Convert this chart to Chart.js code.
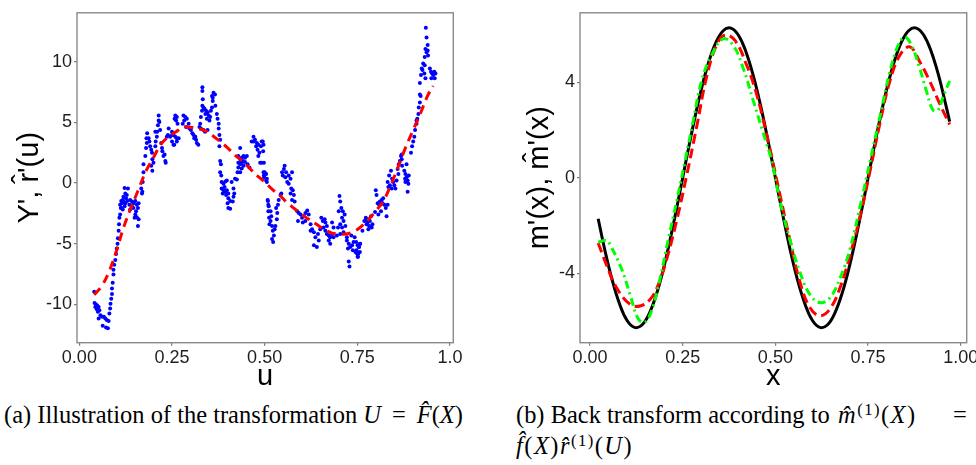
<!DOCTYPE html>
<html>
<head>
<meta charset="utf-8">
<script src="https://cdn.jsdelivr.net/npm/chart.js@4.4.1/dist/chart.umd.min.js"></script>
<style>
  html, body { margin: 0; padding: 0; background: #fff; overflow: hidden; width: 976px; height: 465px; }
  .box { position: absolute; }
  .cap { position: absolute; font-family: "Liberation Serif", "Times New Roman", serif; color: #000; white-space: nowrap; line-height: 1; }
  .cap i { font-style: italic; }
  .cap sup { font-size: 0.68em; vertical-align: 0; position: relative; top: -0.48em; }
  .m { letter-spacing: 0.06em; }
</style>
</head>
<body>
<div class="box" style="left:0;top:0;width:470px;height:395px;"><canvas id="c1" width="470" height="395"></canvas></div>
<div class="box" style="left:490px;top:0;width:510px;height:395px;"><canvas id="c2" width="510" height="395"></canvas></div>

<div id="capA" class="cap" style="left:4px;top:403px;font-size:25px;">(a) Illustration of the transformation <i>U</i>&thinsp; = &thinsp;<i>F&#770;</i>(<i>X</i>)</div>
<div id="capB1" class="cap" style="left:516px;top:403px;font-size:25px;">(b) Back transform according to</div>
<div id="capB2" class="cap m" style="left:838px;top:403px;font-size:25px;"><i>m&#770;</i><sup>(1)</sup>(<i>X</i>)</div>
<div id="capB3" class="cap" style="left:953px;top:403px;font-size:25px;">=</div>
<div id="capB4" class="cap m" style="left:516px;top:434px;font-size:25px;"><i>f&#770;</i>(<i>X</i>)<i>r&#770;</i><sup>(1)</sup>(<i>U</i>)</div>

<script>
// ---------- Panel (a) data ----------
const scatterU = [
 0.040,0.041,0.045,0.048,0.043,0.052,0.047,0.054,0.050,0.052,0.057,0.061,0.066,0.070,0.074,0.079,0.063,0.072,0.077,
 0.081,0.083,0.084,0.086,0.088,0.088,0.090,0.092,0.092,0.094,0.097,0.099,0.101,0.103,0.104,0.106,0.107,0.108,0.110,0.112,0.115,0.117,0.119,
 0.122,0.131,0.124,0.128,0.113,0.119,0.124,0.113,0.117,0.122,0.126,0.110,0.129,
 0.137,0.142,0.146,0.151,0.155,0.160,0.146,0.158,0.151,0.149,0.155,0.160,0.158,0.137,0.142,0.135,0.153,
 0.167,0.170,0.169,0.171,0.173,0.173,0.178,0.180,0.182,0.181,0.183,0.187,0.189,0.191,0.194,0.196,0.197,0.200,0.194,0.197,
 0.205,0.206,0.209,0.205,0.210,0.212,0.214,0.214,0.216,0.218,0.221,0.223,0.224,0.227,0.230,0.232,0.233,0.236,0.239,0.241,0.245,0.250,0.254,0.257,
 0.250,0.254,0.259,0.263,0.250,0.256,0.263,0.268,0.259,0.263,0.261,0.265,0.281,0.286,0.290,0.283,0.279,0.295,0.288,0.297,
 0.301,0.305,0.308,0.313,0.315,0.317,0.321,0.310,0.324,0.326,0.328,0.331,0.332,0.333,0.332,0.332,0.335,0.338,0.340,0.342,
 0.346,0.349,0.344,0.351,0.353,0.355,0.358,0.360,0.358,0.362,0.366,0.360,0.367,0.371,0.373,0.376,0.376,0.378,0.380,0.378,
 0.328,0.335,0.339,0.346,0.380,0.382,0.380,0.383,
 0.384,0.389,0.394,0.398,0.384,0.389,0.394,0.387,0.398,0.402,0.411,0.416,0.418,0.416,0.402,0.407,0.414,0.402,0.407,0.420,0.425,0.392,0.396,0.400,
 0.434,0.429,0.434,0.438,0.443,0.447,0.452,0.429,0.434,0.438,0.443,0.429,0.438,0.434,0.427,0.454,0.459,0.441,0.447,0.436,
 0.470,0.465,0.474,0.479,0.483,0.481,0.486,0.490,0.492,0.497,0.483,0.488,0.492,0.470,0.477,
 0.497,0.501,0.499,0.504,0.506,0.506,0.508,0.510,0.510,0.512,0.513,
 0.495,0.496,0.498,0.500,0.504,0.498,
 0.509,0.511,0.516,0.518,0.516,0.520,0.522,0.525,0.520,0.523,0.527,0.529,0.533,0.534,0.531,0.536,0.538,0.543,0.545,
 0.547,0.552,0.554,0.549,0.556,0.561,0.565,0.570,0.574,0.572,0.576,0.579,0.570,0.574,0.581,0.558,0.565,
 0.588,0.592,0.597,0.601,0.590,0.606,0.610,0.615,0.619,0.603,0.610,
 0.624,0.628,0.633,0.637,0.633,0.641,0.646,0.644,0.624,
 0.653,0.657,0.662,0.650,0.659,0.664,0.668,0.673,0.677,0.682,0.677,0.673,0.686,0.682,0.686,0.668,0.664,
 0.702,0.704,0.707,0.711,0.700,0.709,0.713,0.704,0.698,0.709,0.713,0.704,0.695,0.718,0.716,
 0.722,0.727,0.725,0.731,0.736,0.738,0.740,0.745,0.749,0.752,0.754,0.758,0.727,0.729,0.722,0.734,0.743,
 0.747,0.751,0.755,0.748,0.753,0.757,0.751,0.757,
 0.764,0.769,0.773,0.775,0.778,0.782,0.784,0.787,0.791,0.789,0.780,0.775,
 0.798,0.800,0.802,0.805,0.809,0.811,0.816,0.820,0.823,0.827,0.829,0.814,0.807,0.832,0.818,
 0.832,0.834,0.838,0.843,0.844,0.847,0.850,0.853,0.856,0.841,0.836,
 0.859,0.862,0.865,0.868,0.870,0.871,0.861,0.870,
 0.877,0.880,0.883,0.879,0.886,0.888,0.880,0.886,0.889,0.883,
 0.895,0.898,0.901,0.904,0.906,0.910,0.912,0.915,0.916,0.919,0.921,0.919,0.910,
 0.919,0.922,0.924,0.928,0.932,0.926,0.931,0.934,
 0.935,0.937,0.940,0.934,0.937,0.932,0.941,0.940,
 0.946,0.949,0.952,0.955,0.959,0.950,0.958,0.961
];
const scatterY = [
 -8.95,-9.89,-10.0,-10.08,-10.21,-10.21,-10.4,-10.48,-10.61,-11.15,-10.88,-11.01,-11.01,-11.15,-11.28,-11.36,-11.76,-11.9,-11.95,
 -10.74,-10.34,-9.94,-9.54,-9.14,-8.69,-8.21,-7.54,-7.14,-6.74,-6.33,-5.85,-5.4,-5.0,-4.54,-3.93,-3.39,-2.86,-2.59,-2.06,-1.66,-1.39,-1.12,
 -0.40,-0.45,-0.86,-0.99,-1.47,-1.52,-1.66,-2.06,-2.19,-1.92,-1.26,-1.79,-1.47,
 -1.39,-1.52,-1.66,-1.47,-1.79,-1.66,-2.06,-2.06,-2.59,-2.86,-2.81,-2.99,-3.53,-2.19,-1.92,-1.79,-2.32,
 -0.45,-0.72,-0.86,0.08,0.88,1.55,2.22,2.89,3.29,3.69,4.09,3.69,3.42,3.02,2.75,2.49,1.95,1.68,1.42,1.02,
 3.02,3.42,3.82,4.22,4.22,4.76,5.16,5.56,5.03,4.36,3.29,2.89,2.62,2.22,2.35,1.82,1.68,3.82,3.96,4.49,3.82,3.96,3.16,5.29,
 4.22,3.96,3.82,3.69,3.42,3.15,3.42,3.69,5.56,5.43,5.16,4.89,5.56,5.43,5.29,5.16,4.89,4.89,4.62,4.49,
 4.36,4.09,3.96,3.82,3.56,3.29,3.15,3.69,4.62,4.89,5.43,5.96,6.36,6.90,7.57,7.89,6.23,6.09,5.69,5.96,
 5.83,5.56,5.29,5.16,5.43,5.96,6.23,6.76,7.16,7.43,7.30,7.03,6.36,5.69,5.29,4.89,4.49,3.96,3.56,3.02,
 4.49,4.36,4.22,4.36,1.82,1.55,0.88,0.62,
 0.08,-0.05,0.13,0.21,-0.45,-0.59,-0.72,-0.86,-0.59,-0.86,0.08,-0.45,-0.86,-1.12,-1.26,-1.47,-1.52,-2.06,-2.11,0.35,0.29,-0.32,-0.99,-1.66,
 2.89,2.22,1.95,2.09,2.22,2.09,2.22,1.68,1.55,1.68,1.42,1.28,1.20,0.88,0.88,1.55,1.28,1.82,1.74,1.90,
 3.82,3.42,3.56,3.29,3.15,2.75,2.49,3.02,3.42,3.15,2.22,1.68,1.68,3.42,3.02,
 0.88,0.75,0.48,0.21,0.08,0.35,-1.39,-1.79,-2.32,-2.86,-3.39,
 3.42,2.62,1.68,0.88,0.75,0.62,
 -1.47,-1.92,-2.32,-2.73,-3.13,-3.53,-3.93,-4.33,-4.60,-4.86,-3.80,-3.53,-2.99,-2.46,-2.06,-1.79,-1.39,-0.99,-0.86,
 0.88,1.15,1.42,0.62,0.48,0.08,-0.05,0.35,0.88,-0.45,-0.59,-0.99,-0.86,-1.39,-1.52,0.88,0.62,
 -2.32,-2.46,-2.59,-2.86,-3.13,-2.73,-2.46,-2.27,-2.59,-3.26,-3.13,
 -3.39,-3.80,-4.06,-4.46,-5.13,-5.27,-4.73,-4.20,-3.93,
 -2.86,-3.13,-2.99,-3.80,-3.66,-3.93,-4.20,-4.33,-4.46,-4.20,-5.00,-4.73,-4.46,-3.26,-3.66,-3.53,-3.26,
 -1.07,-1.52,-2.06,-2.32,-2.32,-2.86,-3.13,-3.39,-3.66,-3.66,-4.06,-4.20,-4.33,-3.53,-2.59,
 -4.73,-5.00,-5.40,-5.27,-5.13,-5.53,-4.86,-5.67,-5.80,-6.07,-5.27,-5.00,-6.47,-6.87,-4.46,-4.33,-4.46,
 -4.86,-5.13,-5.27,-5.53,-5.80,-5.67,-6.07,-5.00,
 -3.93,-3.13,-2.86,-2.99,-3.26,-3.53,-3.13,-2.73,-3.39,-3.66,-3.80,-3.39,
 -2.38,-0.59,-0.99,-1.66,-1.79,-1.52,-1.39,-1.26,-1.79,-2.06,-2.73,-2.32,-2.59,-1.79,-1.66,
 0.08,-0.32,-0.19,-0.45,0.35,0.08,-0.19,-0.45,0.21,1.02,0.62,
 1.15,1.55,1.82,2.22,1.95,1.42,0.75,2.35,
 1.02,0.75,0.48,0.35,0.21,-0.05,0.08,-0.72,0.62,1.55,
 2.49,3.02,3.42,3.82,4.36,4.89,5.29,5.69,6.23,6.63,7.16,7.30,5.16,
 8.23,8.90,9.44,9.84,9.70,9.30,9.03,8.63,
 12.78,11.98,11.36,11.04,10.77,10.37,10.51,10.91,
 9.44,9.17,9.03,8.90,8.63,8.63,9.17,9.03
];
const fitU = [0.04,0.06,0.08,0.10,0.12,0.14,0.16,0.18,0.20,0.22,0.24,0.26,0.28,0.30,0.32,0.34,0.36,0.38,0.40,0.42,0.44,0.46,0.48,0.50,0.52,0.54,0.56,0.58,0.60,0.62,0.64,0.66,0.68,0.70,0.72,0.74,0.76,0.78,0.80,0.82,0.84,0.86,0.88,0.90,0.92,0.94,0.955];
const fitY = [-9.2,-8.5,-7.3,-5.6,-3.6,-2.0,-0.5,1.0,2.1,3.2,3.8,4.2,4.6,4.6,4.5,4.3,3.9,3.4,2.9,2.3,1.8,1.2,0.6,0.1,-0.5,-1.0,-1.6,-2.1,-2.6,-3.0,-3.4,-3.8,-4.1,-4.2,-4.2,-4.0,-3.6,-3.0,-2.3,-1.5,-0.2,1.3,2.9,4.3,5.7,7.2,8.0];
const leftXTicks = [0, 0.25, 0.5, 0.75, 1];
const leftXLabels = ["0.00", "0.25", "0.50", "0.75", "1.0"];
const leftYTicks = [-10, -5, 0, 5, 10];
const leftYLabels = ["-10", "-5", "0", "5", "10"];

// ---------- Panel (b) data ----------
const trueX = [0.022,0.04,0.06,0.08,0.10,0.12,0.14,0.16,0.18,0.20,0.22,0.24,0.26,0.28,0.30,0.32,0.34,0.36,0.38,0.40,0.42,0.44,0.46,0.48,0.50,0.52,0.54,0.56,0.58,0.60,0.62,0.64,0.66,0.68,0.70,0.72,0.74,0.76,0.78,0.80,0.82,0.84,0.86,0.88,0.90,0.92,0.94,0.96,0.97];
const trueY = [-1.72,-3.03,-4.30,-5.30,-5.98,-6.27,-6.17,-5.68,-4.84,-3.69,-2.31,-0.79,0.79,2.31,3.69,4.84,5.68,6.17,6.27,5.98,5.30,4.30,3.03,1.56,0,-1.56,-3.03,-4.30,-5.30,-5.98,-6.27,-6.17,-5.68,-4.84,-3.69,-2.31,-0.79,0.79,2.31,3.69,4.84,5.68,6.17,6.27,5.98,5.30,4.30,3.03,2.35];
const redX = [0.022,0.045,0.072,0.108,0.135,0.162,0.184,0.207,0.234,0.261,0.288,0.314,0.341,0.364,0.391,0.422,0.449,0.481,0.512,0.539,0.566,0.593,0.620,0.647,0.674,0.701,0.728,0.755,0.782,0.809,0.836,0.863,0.889,0.916,0.943,0.970];
const redY = [-2.73,-3.67,-4.62,-5.30,-5.37,-5.10,-4.49,-3.40,-1.78,0.12,2.16,4.19,5.55,5.98,5.75,4.74,3.52,1.5,-0.69,-2.59,-4.35,-5.44,-5.78,-5.50,-4.62,-3.27,-1.64,0.26,2.29,4.06,5.14,5.48,4.87,4.06,3.11,2.23];
const greenX = [0.022,0.045,0.054,0.085,0.108,0.130,0.148,0.166,0.189,0.211,0.234,0.256,0.279,0.301,0.328,0.359,0.386,0.413,0.440,0.467,0.490,0.512,0.539,0.566,0.593,0.620,0.647,0.674,0.701,0.728,0.755,0.782,0.809,0.831,0.849,0.867,0.889,0.907,0.925,0.939,0.952,0.970];
const greenY = [-2.70,-2.62,-2.80,-3.81,-4.89,-5.91,-6.05,-5.57,-4.22,-2.59,-0.96,0.67,2.43,4.06,5.14,5.82,5.55,4.60,3.24,1.89,0.70,-0.96,-2.59,-3.95,-4.89,-5.23,-5.03,-4.22,-3.00,-1.23,0.67,2.56,4.46,5.55,5.89,5.55,4.60,3.65,2.84,2.84,3.38,4.06];
const rightXTicks = [0, 0.25, 0.5, 0.75, 1];
const rightXLabels = ["0.00", "0.25", "0.50", "0.75", "1.00"];
const rightYTicks = [-4, 0, 4];
const rightYLabels = ["-4", "0", "4"];

// ---------- helpers ----------
const FAM = "'Liberation Sans', Arial, sans-serif";
const pts = (xs, ys) => xs.map((x, i) => ({x: x, y: ys[i]}));

const frame = {
  id: 'frame',
  afterDraw(chart) {
    const a = chart.chartArea, ctx = chart.ctx;
    ctx.save();
    ctx.strokeStyle = '#8a8a8a';
    ctx.lineWidth = 1.4;
    ctx.strokeRect(a.left, a.top, a.right - a.left, a.bottom - a.top);
    ctx.restore();
  }
};

function axis(opts) {
  return {
    type: 'linear',
    min: opts.min, max: opts.max,
    afterBuildTicks: s => { s.ticks = opts.ticks.map(v => ({value: v})); },
    afterFit: s => { if (opts.width !== undefined) s.width = opts.width; if (opts.height !== undefined) s.height = opts.height; },
    ticks: {
      callback: (v, i) => opts.labels[i],
      font: {size: 18, family: FAM},
      color: '#1f1f1f',
      padding: opts.tpad,
      autoSkip: false, maxRotation: 0, minRotation: 0
    },
    grid: {display: true, drawOnChartArea: false, drawTicks: true, tickLength: 3, color: '#7a7a7a', lineWidth: 1.2},
    border: {display: false},
    title: {display: true, text: opts.title, color: '#000', font: {size: 29, family: FAM, lineHeight: 1}, padding: opts.titlePad}
  };
}

const common = {
  responsive: false,
  animation: false,
  events: [],
  plugins: {legend: {display: false}, tooltip: {enabled: false}}
};

new Chart(document.getElementById('c1'), {
  type: 'scatter',
  data: {
    datasets: [
      {data: pts(scatterU, scatterY), showLine: false, pointRadius: 2, pointBackgroundColor: '#0000FF', pointBorderWidth: 0, order: 2},
      {data: pts(fitU, fitY), showLine: true, pointRadius: 0, borderColor: '#FF0000', borderWidth: 3, borderDash: [9, 6], tension: 0.4, order: 1}
    ]
  },
  options: Object.assign({}, common, {
    layout: {padding: {top: 5, right: 16.7, bottom: 0, left: 0}},
    scales: {
      x: axis({min: -0.0064, max: 1.0092, ticks: leftXTicks, labels: leftXLabels, height: 52.3, tpad: 2, title: 'u', titlePad: {top: 0, bottom: 4}}),
      y: axis({min: -13.15, max: 14.02, ticks: leftYTicks, labels: leftYLabels, width: 77, tpad: 2, title: "Y', r\u0302'(u)", titlePad: {top: 15, bottom: 0}})
    }
  }),
  plugins: [frame]
});

new Chart(document.getElementById('c2'), {
  type: 'scatter',
  data: {
    datasets: [
      {data: pts(trueX, trueY), showLine: true, pointRadius: 0, borderColor: '#000000', borderWidth: 3, tension: 0.4, order: 3},
      {data: pts(redX, redY), showLine: true, pointRadius: 0, borderColor: '#FF0000', borderWidth: 3, borderDash: [10, 5], tension: 0.4, order: 2},
      {data: pts(greenX, greenY), showLine: true, pointRadius: 0, borderColor: '#00FF00', borderWidth: 3, borderDash: [8, 4, 2, 4], tension: 0.4, order: 1}
    ]
  },
  options: Object.assign({}, common, {
    layout: {padding: {top: 5, right: 33.3, bottom: 0, left: 0}},
    scales: {
      x: axis({min: -0.027, max: 1.016, ticks: rightXTicks, labels: rightXLabels, height: 52.3, tpad: 2, title: 'x', titlePad: {top: 0, bottom: 4}}),
      y: axis({min: -6.91, max: 6.91, ticks: rightYTicks, labels: rightYLabels, width: 90, tpad: 2, title: "m'(x), m\u0302'(x)", titlePad: {top: 35, bottom: 0}})
    }
  }),
  plugins: [frame]
});

// fit caption (a) to its width in the reference
(function () {
  const a = document.getElementById('capA');
  const w = a.getBoundingClientRect().width;
  const fs = 25 * 459 / w;
  ['capA', 'capB1', 'capB2', 'capB3', 'capB4'].forEach(id => {
    document.getElementById(id).style.fontSize = fs.toFixed(2) + 'px';
  });
})();
</script>
</body>
</html>
